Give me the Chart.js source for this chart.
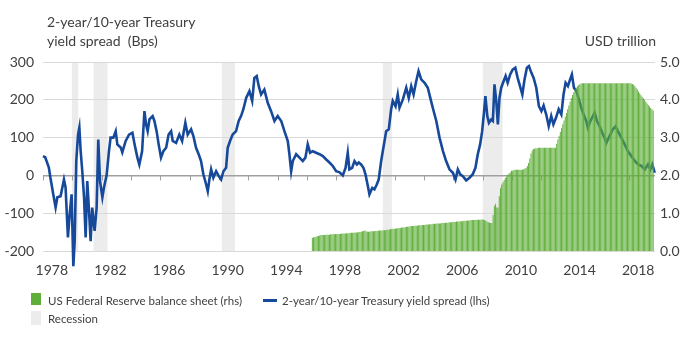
<!DOCTYPE html>
<html><head><meta charset="utf-8">
<script src="https://cdn.jsdelivr.net/npm/chart.js@4"></script>
<style>
body{margin:0;background:#fff;}
#wrap{position:relative;width:696px;height:338px;font-family:Lato,sans-serif;color:#404040;}
canvas{position:absolute;left:0;top:0;}
.t{position:absolute;white-space:pre;font-size:14px;line-height:17px;}
.lg{position:absolute;white-space:pre;font-size:11.5px;line-height:14px;}
.sw{position:absolute;}
</style></head><body>
<div id="wrap">
<canvas id="c" width="696" height="338"></canvas>
<div class="t" style="left:47px;top:13px">2-year/10-year Treasury</div>
<div class="t" style="left:47px;top:32px">yield spread  (Bps)</div>
<div class="t" style="right:40px;top:32px">USD trillion</div>
<div class="sw" style="left:31px;top:293px;width:10px;height:12px;background:#5fae3a"></div>
<div class="lg" style="left:48px;top:294px">US Federal Reserve balance sheet (rhs)</div>
<div class="sw" style="left:263px;top:299px;width:14px;height:3px;background:#17499b"></div>
<div class="lg" style="left:282px;top:294px">2-year/10-year Treasury yield spread (lhs)</div>
<div class="sw" style="left:31px;top:311px;width:10px;height:14px;background:#ececec"></div>
<div class="lg" style="left:48px;top:312px">Recession</div>
</div>
<script>
// ---- data ----
const spreadYears = [1978.00,1978.15,1978.40,1978.50,1978.70,1978.86,1978.98,1979.20,1979.43,1979.54,1979.70,1979.82,1979.95,1980.07,1980.16,1980.27,1980.39,1980.48,1980.57,1980.68,1980.80,1980.91,1981.02,1981.14,1981.25,1981.36,1981.52,1981.66,1981.77,1981.89,1982.05,1982.16,1982.34,1982.50,1982.61,1982.80,1982.96,1983.07,1983.30,1983.41,1983.64,1983.87,1984.10,1984.25,1984.44,1984.57,1984.76,1984.92,1985.03,1985.14,1985.26,1985.48,1985.60,1985.75,1985.89,1986.05,1986.21,1986.40,1986.57,1986.74,1986.85,1987.08,1987.30,1987.49,1987.71,1987.87,1988.10,1988.26,1988.44,1988.62,1988.78,1988.94,1989.13,1989.24,1989.35,1989.47,1989.62,1989.81,1989.99,1990.15,1990.31,1990.49,1990.60,1990.76,1990.94,1991.17,1991.35,1991.51,1991.67,1991.86,1992.08,1992.27,1992.42,1992.58,1992.72,1992.88,1993.10,1993.33,1993.56,1993.79,1994.01,1994.25,1994.47,1994.70,1994.81,1994.93,1995.04,1995.27,1995.50,1995.72,1995.90,1996.06,1996.22,1996.40,1996.63,1996.86,1997.09,1997.32,1997.54,1997.77,1998.00,1998.23,1998.45,1998.64,1998.79,1998.90,1999.09,1999.25,1999.41,1999.54,1999.70,1999.86,2000.00,2000.16,2000.27,2000.46,2000.61,2000.77,2000.90,2001.07,2001.18,2001.30,2001.41,2001.59,2001.75,2001.86,2002.05,2002.20,2002.32,2002.55,2002.78,2002.95,2003.12,2003.28,2003.46,2003.62,2003.80,2004.03,2004.25,2004.42,2004.59,2004.83,2005.05,2005.28,2005.50,2005.73,2005.96,2006.14,2006.30,2006.46,2006.64,2006.87,2007.10,2007.32,2007.50,2007.66,2007.82,2007.96,2008.07,2008.18,2008.31,2008.42,2008.58,2008.69,2008.80,2008.92,2009.03,2009.14,2009.26,2009.42,2009.56,2009.70,2009.87,2010.04,2010.22,2010.38,2010.54,2010.70,2010.85,2011.01,2011.15,2011.31,2011.47,2011.65,2011.83,2012.00,2012.15,2012.33,2012.50,2012.67,2012.82,2013.00,2013.18,2013.36,2013.51,2013.65,2013.81,2013.96,2014.08,2014.22,2014.38,2014.56,2014.72,2014.88,2015.06,2015.17,2015.34,2015.52,2015.63,2015.79,2015.97,2016.15,2016.30,2016.43,2016.54,2016.70,2016.88,2017.06,2017.22,2017.45,2017.68,2017.90,2018.14,2018.37,2018.60,2018.82,2019.05,2019.27,2019.43,2019.57,2019.73];
const spreadBps = [51,48,21,-5,-50,-85,-58,-55,-11,-32,-164,-103,-50,-240,-174,38,108,127,64,11,-58,-164,-15,-94,-174,-85,-147,-85,95,-15,-58,-32,0,64,100,100,117,82,74,61,91,108,113,82,47,29,64,170,135,117,148,157,144,117,82,47,64,73,108,117,91,86,108,91,139,108,122,104,73,56,38,3,-24,-42,-11,16,-6,11,-2,-11,11,20,73,91,108,117,144,157,175,205,223,197,258,263,236,214,227,192,170,144,157,144,117,91,56,11,38,56,47,38,47,82,60,64,60,56,51,42,34,25,11,8,0,20,60,16,20,38,29,34,29,20,3,-28,-50,-33,-37,-24,-11,38,64,91,117,122,175,197,183,214,179,201,232,205,236,214,249,276,254,245,232,205,179,144,100,65,38,16,7,-11,16,3,-2,-13,-6,3,20,56,82,117,161,210,157,139,148,144,241,197,135,205,232,249,263,245,267,280,285,258,236,214,254,285,289,272,258,232,183,170,185,161,130,157,135,153,175,161,214,245,236,254,267,232,223,201,179,161,144,126,144,157,166,144,130,113,100,86,95,108,122,130,117,100,82,64,51,38,29,25,16,29,16,29,7];

const fedYears = [1996,1997,1998,1999,2000,2001,2002,2003,2004,2005,2006,2007,2008,2009,2010,2011,2012,2013,2014,2015,2016,2017,2018,2019];
const fedFirstMonth = 5; // May 1996
const fedTrillion = [
 [0.35,0.36,0.37,0.38,0.39,0.40,0.41,0.42],
 [0.42,0.42,0.42,0.43,0.43,0.43,0.43,0.44,0.44,0.44,0.44,0.45],
 [0.45,0.45,0.45,0.45,0.46,0.46,0.46,0.46,0.47,0.47,0.47,0.48],
 [0.48,0.48,0.48,0.49,0.49,0.49,0.50,0.50,0.51,0.52,0.53,0.54],
 [0.52,0.51,0.51,0.51,0.52,0.52,0.52,0.53,0.53,0.53,0.54,0.54],
 [0.54,0.54,0.55,0.55,0.55,0.56,0.56,0.56,0.58,0.58,0.59,0.59],
 [0.59,0.60,0.60,0.61,0.61,0.62,0.62,0.63,0.63,0.64,0.64,0.65],
 [0.65,0.66,0.66,0.66,0.67,0.67,0.67,0.68,0.68,0.68,0.69,0.69],
 [0.69,0.70,0.70,0.70,0.71,0.71,0.71,0.72,0.72,0.72,0.73,0.73],
 [0.73,0.73,0.74,0.74,0.74,0.75,0.75,0.75,0.76,0.76,0.76,0.77],
 [0.77,0.77,0.78,0.78,0.78,0.79,0.79,0.79,0.80,0.80,0.80,0.81],
 [0.81,0.81,0.82,0.82,0.82,0.82,0.83,0.83,0.83,0.83,0.83,0.84],
 [0.83,0.82,0.80,0.78,0.76,0.75,0.74,0.74,0.95,1.20,1.25,1.15],
 [1.15,1.45,1.66,1.76,1.82,1.88,1.93,1.97,2.02,2.05,2.08,2.12],
 [2.12,2.14,2.15,2.15,2.15,2.15,2.15,2.15,2.15,2.16,2.18,2.20],
 [2.25,2.33,2.45,2.58,2.66,2.70,2.71,2.72,2.72,2.73,2.73,2.73],
 [2.73,2.73,2.73,2.73,2.73,2.73,2.73,2.73,2.73,2.73,2.73,2.73],
 [2.84,2.95,3.05,3.15,3.25,3.35,3.45,3.55,3.65,3.75,3.85,3.95],
 [4.05,4.13,4.20,4.27,4.32,4.36,4.39,4.41,4.43,4.44,4.44,4.44],
 [4.44,4.44,4.44,4.44,4.44,4.44,4.44,4.44,4.44,4.44,4.44,4.44],
 [4.44,4.44,4.44,4.44,4.44,4.44,4.44,4.44,4.44,4.44,4.44,4.44],
 [4.44,4.44,4.44,4.44,4.44,4.44,4.44,4.44,4.44,4.44,4.44,4.44],
 [4.44,4.43,4.42,4.40,4.36,4.32,4.28,4.22,4.17,4.12,4.08,4.04],
 [4.00,3.95,3.90,3.86,3.82,3.78,3.75,3.72]
];

const recessionStarts = [1979.97,1981.45,1990.2,2001.18,2008.0];
const recessionEnds   = [1980.40,1982.40,1991.1,2001.80,2009.35];

const labelYears = [1978,1982,1986,1990,1994,1998,2002,2006,2010,2014,2018];
const tickYears = [1978,1980,1982,1984,1986,1988,1990,1992,1994,1996,1998,2000,2002,2004,2006,2008,2010,2012,2014,2016,2018];
const xMin = 1978.0, xMax = 2019.75;

// ---- build library data ----
const spreadPoints = spreadYears.map((yr,i)=>({x:yr, y:spreadBps[i]}));
const fedPoints = [];
fedYears.forEach((yr,yi)=>{
  const first = yi===0 ? fedFirstMonth : 1;
  fedTrillion[yi].forEach((v,mi)=>{
    fedPoints.push({x: yr + (first+mi-0.5)/12, y: v});
  });
});

const txt = '#404040';
const bgPlugin = {
  id:'bg',
  beforeDraw(chart){
    const {ctx, chartArea:a, scales:{x}} = chart;
    ctx.save(); ctx.fillStyle='#ececec';
    recessionStarts.forEach((s,i)=>{
      const x0=x.getPixelForValue(s), x1=x.getPixelForValue(recessionEnds[i]);
      ctx.fillRect(x0,a.top,x1-x0,a.bottom-a.top);
    });
    ctx.restore();
  },
  beforeDatasetsDraw(chart){
    const {ctx, scales:{x,y}} = chart;
    const y0 = y.getPixelForValue(0);
    ctx.save(); ctx.strokeStyle='#a0a0a0'; ctx.lineWidth=1;
    tickYears.forEach(yr=>{
      const px = Math.round(x.getPixelForValue(yr))+0.5;
      ctx.beginPath(); ctx.moveTo(px,y0); ctx.lineTo(px,y0+5); ctx.stroke();
    });
    ctx.restore();
  }
};

new Chart(document.getElementById('c'), {
  type:'bar',
  data:{datasets:[
    {type:'bar', label:'US Federal Reserve balance sheet (rhs)', data:fedPoints, yAxisID:'y1',
     backgroundColor:'#5fae3a', barPercentage:0.8, categoryPercentage:1, order:0},
    {type:'line', label:'2-year/10-year Treasury yield spread (lhs)', data:spreadPoints, yAxisID:'y',
     borderColor:'#17499b', borderWidth:2.6, pointRadius:0, tension:0, order:1, clip:false}
  ]},
  options:{
    responsive:false, animation:false,
    layout:{padding:{top:62, left:0, right:0, bottom:0}},
    plugins:{legend:{display:false}, tooltip:{enabled:false}},
    scales:{
      x:{type:'linear', min:xMin, max:xMax, offset:false,
         grid:{display:false, drawTicks:false}, border:{display:false},
         afterBuildTicks(s){ s.ticks = labelYears.map(v=>({value:v+0.6})); },
         ticks:{callback:(v)=>String(Math.floor(v)), font:{family:'Lato',size:14}, color:txt, padding:11, maxRotation:0, autoSkip:false},
         afterFit(s){ s.height = 87; }},
      y:{position:'left', min:-200, max:300,
         ticks:{stepSize:50, font:{family:'Lato',size:14}, color:txt, padding:9},
         grid:{color:(c)=>c.tick.value===0?'#a0a0a0':'#d9d9d9', lineWidth:(c)=>c.tick.value===0?1.5:1, drawTicks:false},
         border:{display:false},
         afterFit(s){ s.width = 43; }},
      y1:{position:'right', min:0, max:5,
         ticks:{stepSize:0.5, callback:(v)=>v.toFixed(1), font:{family:'Lato',size:14}, color:txt, padding:5},
         grid:{display:false, drawTicks:false}, border:{display:false},
         afterFit(s){ s.width = 41; }}
    }
  },
  plugins:[bgPlugin]
});
</script>
</body></html>
